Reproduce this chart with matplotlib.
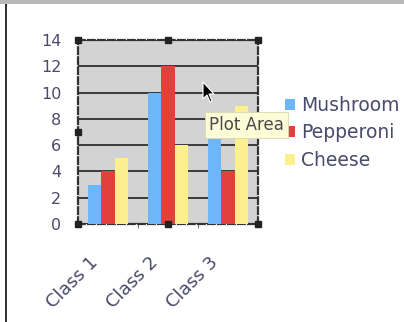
import matplotlib
matplotlib.use("Agg")
import matplotlib.pyplot as plt
import matplotlib.transforms as mtransforms
import numpy as np
from matplotlib.patches import Rectangle, Polygon

categories = ["Class 1", "Class 2", "Class 3"]
series = ["Mushroom", "Pepperoni", "Cheese"]
mushroom = [3, 10, 7]
pepperoni = [4, 12, 4]
cheese = [5, 6, 9]
values = [mushroom, pepperoni, cheese]
colors = ["#6db6f9", "#e2403a", "#fcef8e"]
yticks = [0, 2, 4, 6, 8, 10, 12, 14]

W, H = 404, 322
fig = plt.figure(figsize=(W / 100, H / 100), dpi=100)
fig.patch.set_facecolor("white")

def fx(px):
    return px / W

def fy(py):
    return 1 - py / H

# window chrome
fig.patches.append(Rectangle((0, fy(4)), 1, 4 / H, transform=fig.transFigure,
                             facecolor="#b8b8b8", edgecolor="none", zorder=0))
fig.patches.append(Rectangle((fx(5), 0), 2 / W, fy(4), transform=fig.transFigure,
                             facecolor="#333333", edgecolor="none", zorder=0))

L, R, T, B = 78, 258, 40, 224
ax = fig.add_axes([fx(L), fy(B), (R - L) / W, (B - T) / H])
ax.set_facecolor("#d3d3d3")
x = np.arange(len(categories))
bw = 0.222
for i, (vals, c, name) in enumerate(zip(values, colors, series)):
    ax.bar(x + (i - 1) * bw, vals, width=bw, color=c, label=name, zorder=3)

ax.set_xlim(-0.5, 2.5)
ax.set_ylim(0, 14)
ax.set_yticks(yticks)
ax.set_yticklabels([str(v) for v in yticks], fontsize=11.5, color="#4a4a6a")
ax.yaxis.grid(True, color="#3a3a3a", linewidth=1.4, zorder=1)
ax.set_axisbelow(True)
ax.tick_params(axis="y", length=0, pad=12)

ax.set_xticks(x)
ax.set_xticklabels(categories, rotation=45, ha="right", va="top",
                   rotation_mode="anchor", fontsize=13, color="#4a4a6a")
ax.set_xticks([0.5, 1.5], minor=True)
ax.tick_params(axis="x", which="major", length=0, pad=0)
ax.tick_params(axis="x", which="minor", length=3, color="#555555")
offset = mtransforms.ScaledTranslation(-19 / 100, -29 / 100, fig.dpi_scale_trans)
for lbl in ax.get_xticklabels():
    lbl.set_transform(lbl.get_transform() + offset)

for s in ax.spines.values():
    s.set_linestyle((0, (3, 1.5)))
    s.set_color("#333333")
    s.set_linewidth(1.6)

# selection handles
for hx, hy in [(0, 0), (0.5, 0), (1, 0), (0, 1), (0.5, 1), (1, 1), (0, 0.5)]:
    ax.plot(hx, hy, marker="s", markersize=5, color="#222222",
            transform=ax.transAxes, clip_on=False, zorder=6)

leg = fig.legend(loc="upper left", bbox_to_anchor=(fx(285), fy(96)),
                 frameon=False, fontsize=13.5, handlelength=0.55, handleheight=0.55,
                 handletextpad=0.3, labelspacing=0.45, borderaxespad=0,
                 borderpad=0)
for t in leg.get_texts():
    t.set_color("#4a4a6a")

# tooltip
fig.text(fx(209), fy(125), "Plot Area", fontsize=12, color="#4a4a4a",
         va="center", ha="left", zorder=10,
         bbox=dict(boxstyle="square,pad=0.25", facecolor="#fdfcd6",
                   edgecolor="#d8d8b0", linewidth=0.6))
# cursor arrow
cur = np.array([[0, 0], [0, 17], [4, 13], [7, 20], [9, 19], [6, 12], [11, 12]])
pts = [(fx(203 + px), fy(82 + py)) for px, py in cur]
fig.patches.append(Polygon(pts, closed=True, transform=fig.transFigure,
                           facecolor="black", edgecolor="white", linewidth=0.8,
                           zorder=11))

fig.savefig("out.png", dpi=100, facecolor="white")
